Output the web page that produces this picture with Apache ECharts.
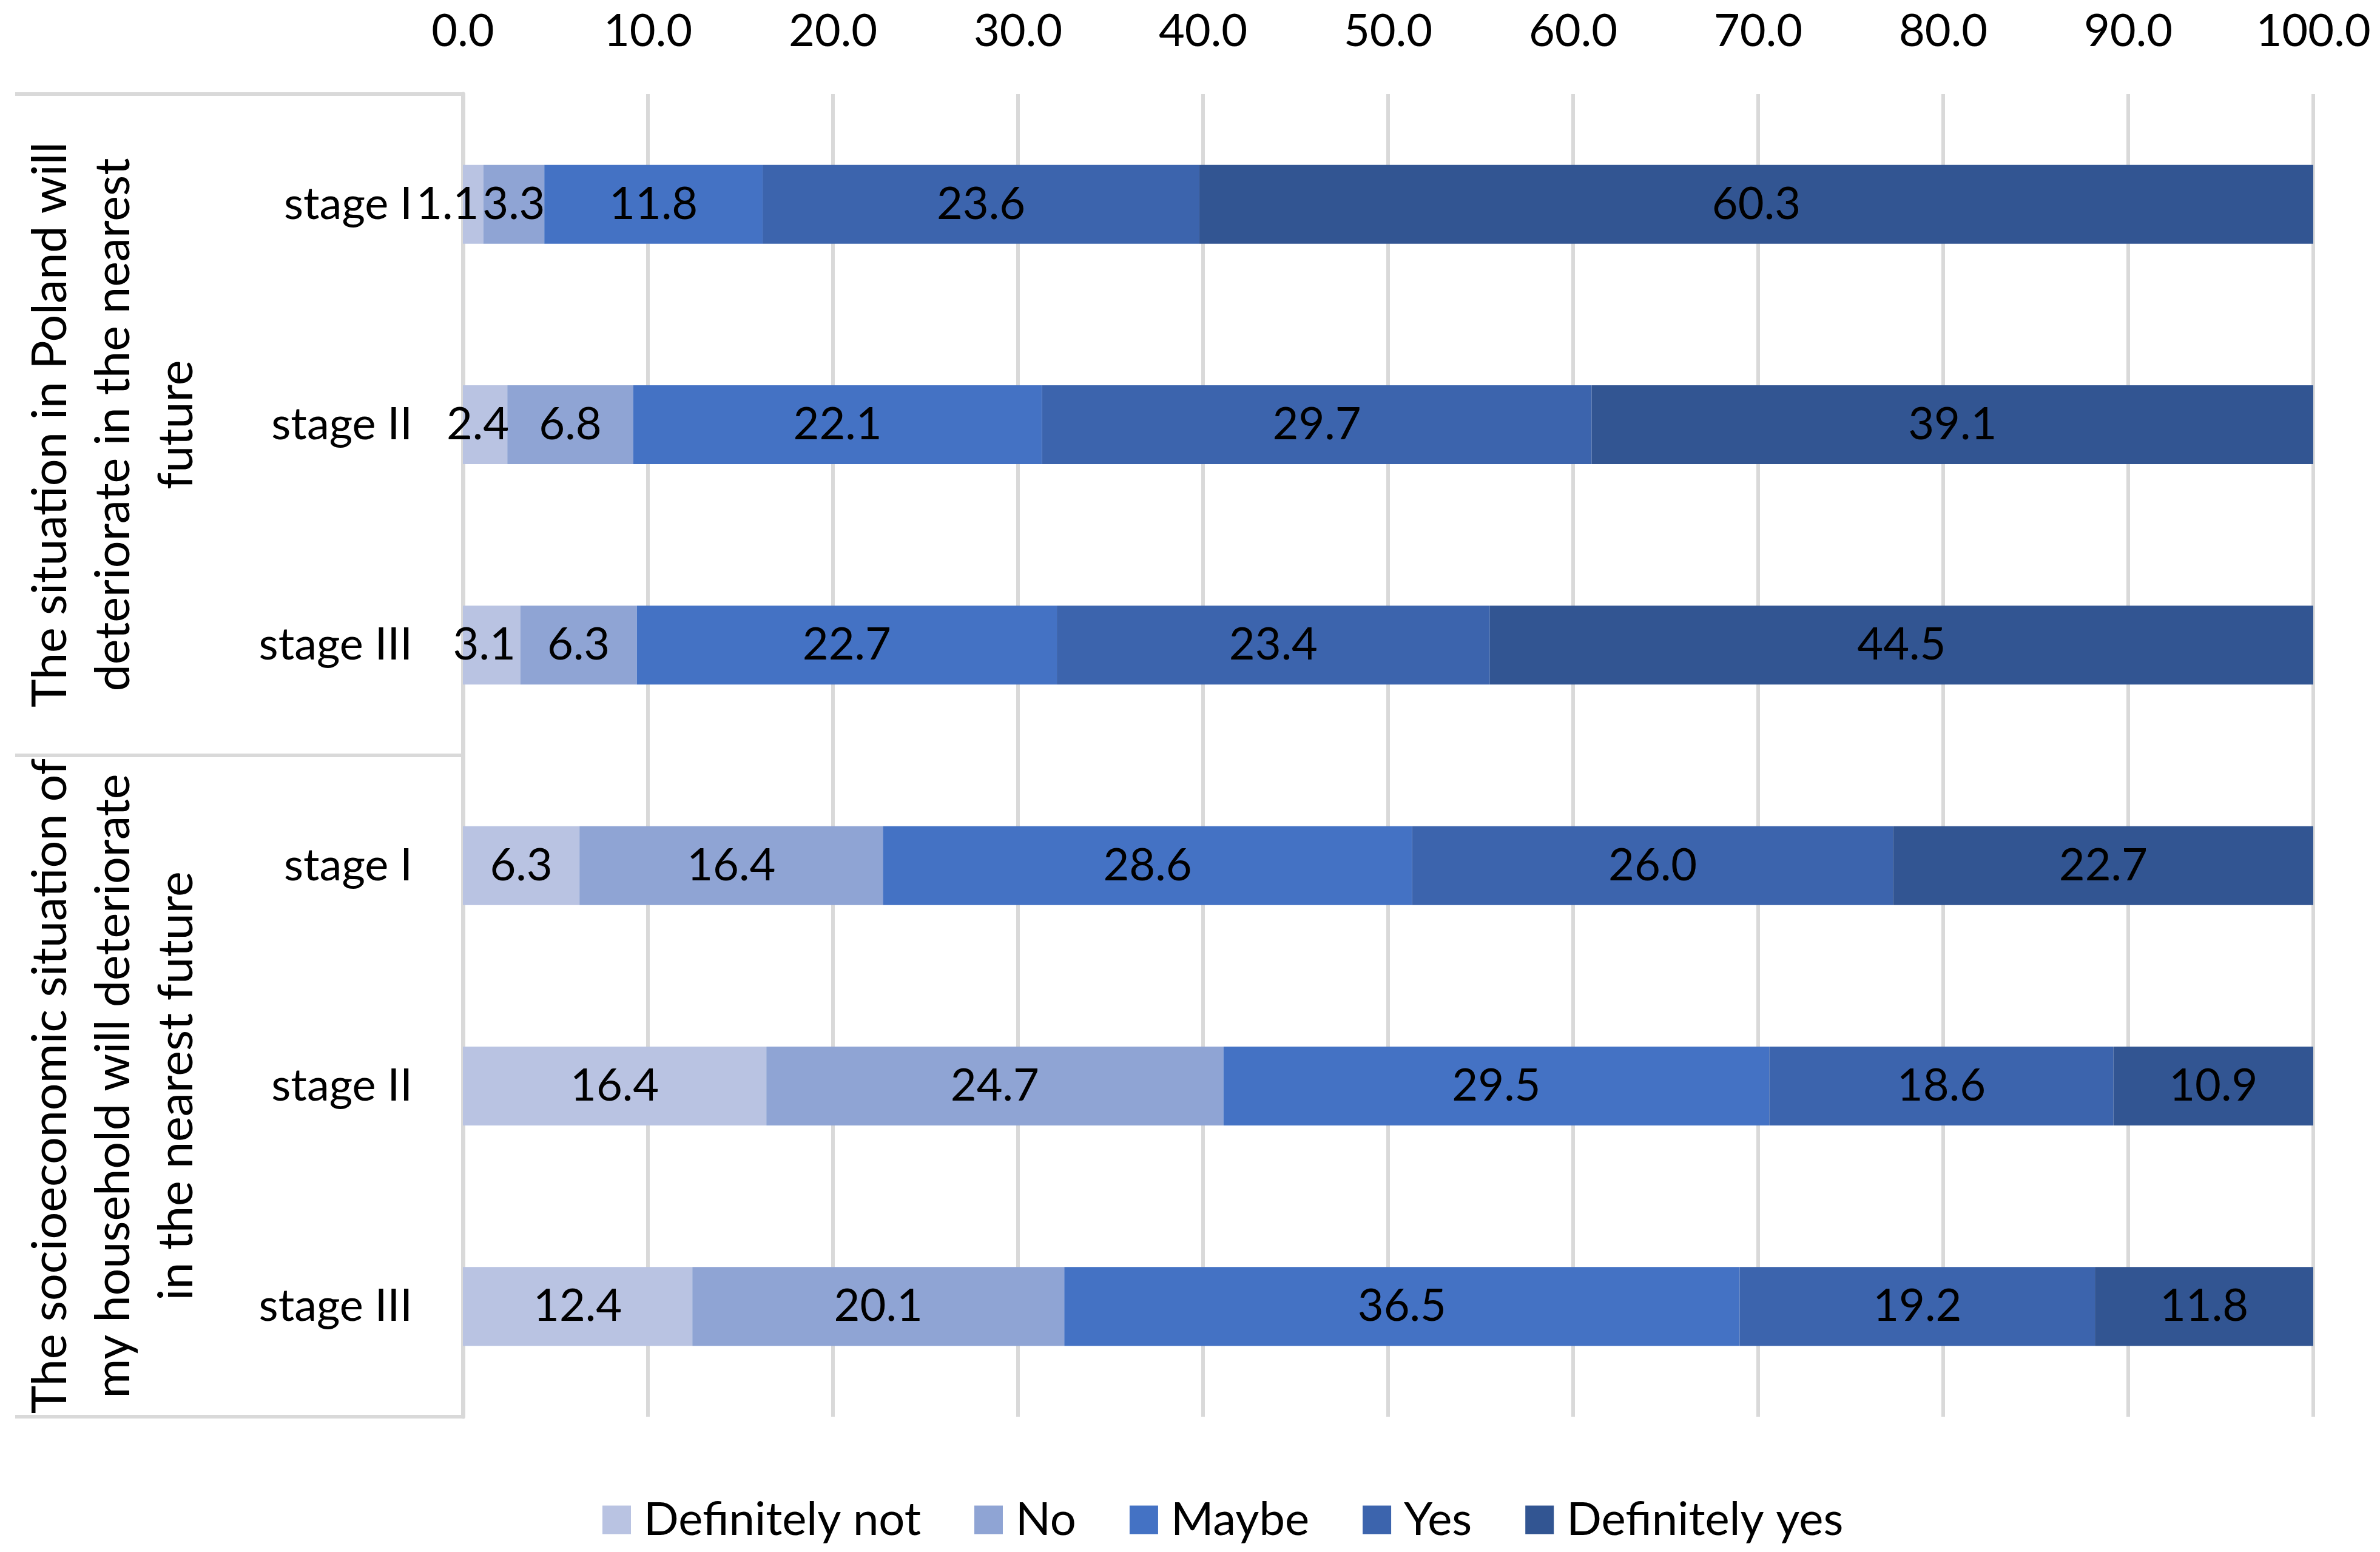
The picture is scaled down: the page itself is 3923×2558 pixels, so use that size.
<!DOCTYPE html>
<html>
<head>
<meta charset="utf-8">
<script src="https://cdn.jsdelivr.net/npm/echarts@6/dist/echarts.min.js"></script>
<style>html,body{margin:0;padding:0;background:#fff}#c{width:3923px;height:2558px}</style>
</head>
<body>
<div id="c"></div>
<script>
// ---- data ----
var categories = ['g1|stage I', 'g1|stage II', 'g1|stage III', 'g2|stage I', 'g2|stage II', 'g2|stage III'];
var groupTitles = [
  'The situation in Poland will\ndeteriorate in the nearest\nfuture',
  'The socioeconomic situation of\nmy household will deteriorate\nin the nearest future'
];
var seriesNames = ['Definitely not', 'No', 'Maybe', 'Yes', 'Definitely yes'];
var definitelyNot = [1.1, 2.4, 3.1, 6.3, 16.4, 12.4];
var no            = [3.3, 6.8, 6.3, 16.4, 24.7, 20.1];
var maybe         = [11.8, 22.1, 22.7, 28.6, 29.5, 36.5];
var yes           = [23.6, 29.7, 23.4, 26.0, 18.6, 19.2];
var definitelyYes = [60.3, 39.1, 44.5, 22.7, 10.9, 11.8];
var xTicks = { min: 0, max: 100, interval: 10 };

// ---- styles ----
var FONT = 'Lato, "Liberation Sans", sans-serif';
var colors = ['#b9c3e2', '#8fa4d4', '#4472c4', '#3c64ad', '#325592'];
var values = [definitelyNot, no, maybe, yes, definitelyYes];

var chart = echarts.init(document.getElementById('c'));

var series = seriesNames.map(function (name, si) {
  return {
    name: name,
    type: 'bar',
    stack: 'total',
    barWidth: 130,
    clip: true,
    itemStyle: { color: colors[si] },
    label: {
      show: true,
      position: 'inside',
      color: '#000',
      fontFamily: FONT,
      fontSize: 74,
      formatter: function (p) { return Number(p.value).toFixed(1); }
    },
    data: values[si].map(function (v, i) {
      var d = { value: v };
      if (si === 0 && i === 0) d.label = { offset: [-42, 0] };
      if (si === 0 && (i === 1 || i === 2)) d.label = { offset: [-12, 0] };
      return d;
    })
  };
});

var gridLeft = 763, gridRight = 110, gridTop = 155, gridBottom = 223;

chart.setOption({
  backgroundColor: '#fff',
  animation: false,
  grid: { left: gridLeft, right: gridRight, top: gridTop, bottom: gridBottom, containLabel: false },
  legend: {
    data: seriesNames,
    bottom: 10,
    left: 988,
    itemWidth: 47,
    itemHeight: 47,
    itemGap: 88,
    icon: 'rect',
    textStyle: { fontFamily: FONT, fontSize: 76, color: '#000', padding: [0, 0, 0, 16] }
  },
  xAxis: {
    type: 'value',
    position: 'top',
    min: xTicks.min,
    max: xTicks.max,
    interval: xTicks.interval,
    axisLine: { show: false },
    axisTick: { show: false },
    splitLine: { show: true, lineStyle: { color: '#d9d9d9', width: 6 } },
    axisLabel: {
      margin: 66,
      color: '#000',
      fontFamily: FONT,
      fontSize: 74,
      formatter: function (v) { return v.toFixed(1); }
    }
  },
  yAxis: {
    type: 'category',
    inverse: true,
    data: categories,
    axisLine: { show: true, lineStyle: { color: '#d9d9d9', width: 7 } },
    axisTick: { show: false },
    axisLabel: {
      margin: 83,
      color: '#000',
      fontFamily: FONT,
      fontSize: 74,
      formatter: function (v) { return v.split('|')[1]; }
    }
  },
  series: series
});

// hierarchical category frame + group titles
var H = 2558;
var plotTop = gridTop, plotBottom = H - gridBottom;
var midY = (chart.convertToPixel({ yAxisIndex: 0 }, 2) + chart.convertToPixel({ yAxisIndex: 0 }, 3)) / 2;
var g1c = chart.convertToPixel({ yAxisIndex: 0 }, 1);
var g2c = chart.convertToPixel({ yAxisIndex: 0 }, 4);
var lineStyle = { stroke: '#d9d9d9', lineWidth: 6 };
chart.setOption({
  graphic: [
    { type: 'line', shape: { x1: 25, y1: plotTop, x2: gridLeft, y2: plotTop }, style: lineStyle },
    { type: 'line', shape: { x1: 25, y1: midY, x2: gridLeft, y2: midY }, style: lineStyle },
    { type: 'line', shape: { x1: 25, y1: plotBottom, x2: gridLeft, y2: plotBottom }, style: lineStyle },
    { type: 'text', x: 188, y: g1c, rotation: Math.PI / 2,
      style: { text: groupTitles[0], align: 'center', verticalAlign: 'middle', fontFamily: FONT, fontSize: 79, lineHeight: 104, fill: '#000' } },
    { type: 'text', x: 188, y: g2c, rotation: Math.PI / 2,
      style: { text: groupTitles[1], align: 'center', verticalAlign: 'middle', fontFamily: FONT, fontSize: 79, lineHeight: 104, fill: '#000' } }
  ]
});
</script>
</body>
</html>
